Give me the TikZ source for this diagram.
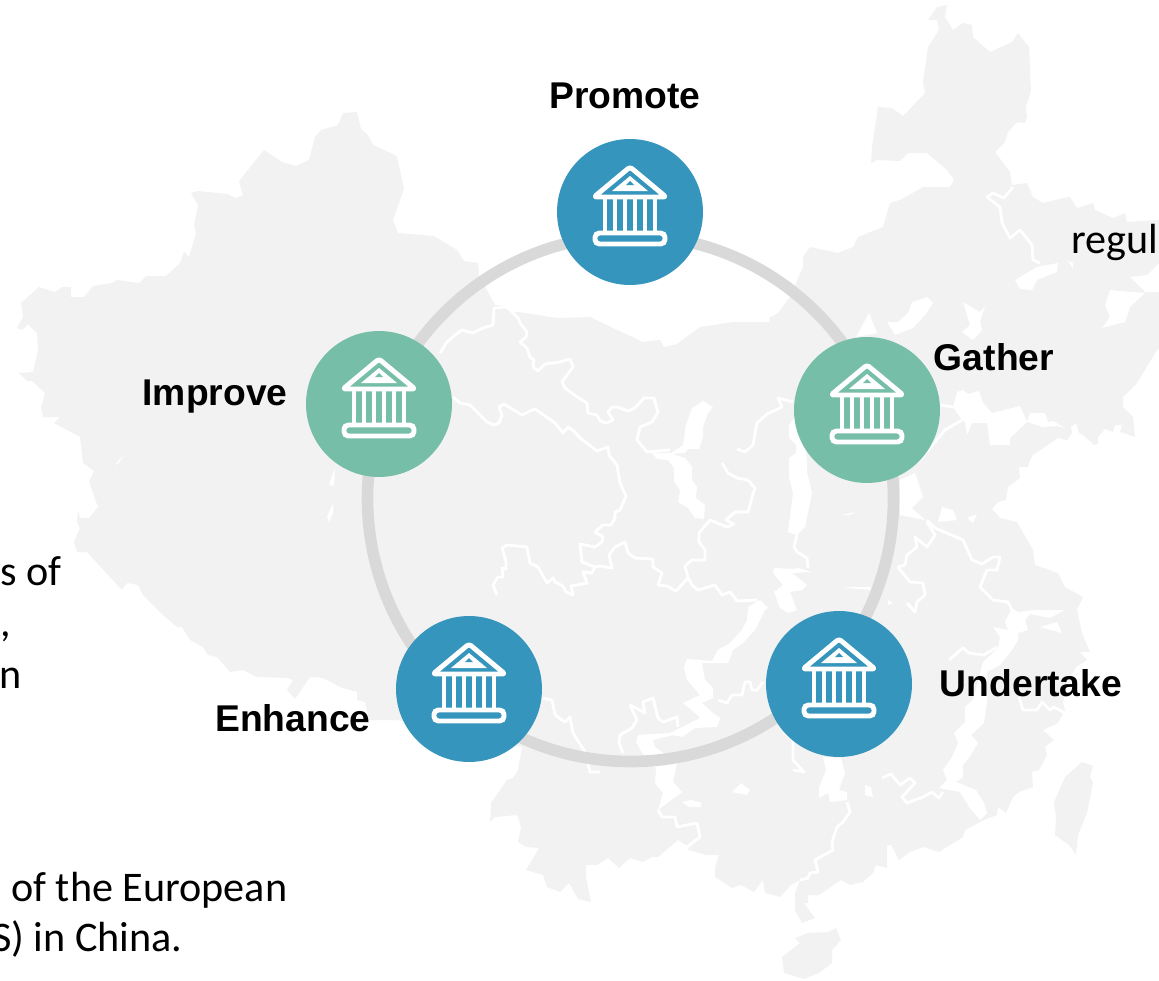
\documentclass[tikz,border=0pt]{standalone}
\usepackage{fontspec}
\setmainfont{Carlito}
\newfontfamily\labelfont{Liberation Sans}
\usetikzlibrary{calc,positioning}
\definecolor{mapgray}{HTML}{F2F2F2}
\definecolor{ringgray}{HTML}{D9D9D9}
\definecolor{hallblue}{HTML}{3595BC}
\definecolor{hallgreen}{HTML}{77BEA8}
\tikzset{
  river/.style={draw=white, line width=1.6pt, line join=round},
  lake/.style={fill=white},
  hall/.style={circle, minimum size=2.92cm, inner sep=0pt},
  hallname/.style={font=\labelfont\bfseries\fontsize{21.2}{25}\selectfont},
  cuttext/.style={font=\fontsize{24}{28}\selectfont, inner sep=0pt},
  temple/.pic={
    \draw[white, line width=2.8pt, line join=round, rounded corners=1.5pt] (0,-45) -- (36,-15) -- (-36,-15) -- cycle;
    \fill[white] (-18,-21) -- (0,-36) -- (18,-21) -- cycle;
    \fill[pic actions] (-4,-27) -- (0,-31) -- (4,-27) -- cycle;
    \foreach \xpos in {-25,-15,-5,5,15,25}
      \draw[white, line width=2.8pt] (\xpos,-14) -- (\xpos,21);
    \draw[white, line width=2.8pt, rounded corners=2.5pt] (-35,21) rectangle (35,32);
  }
}
\begin{document}
\begin{tikzpicture}[x=0.02cm,y=-0.02cm]
\clip (0,0) rectangle (1159,980);

\fill[mapgray] (17,328) -- (23,317) -- (21,303) -- (39,287) -- (55,292) -- (62,287) -- (71,287) -- (71,297) -- (84,297) -- (93,286) -- (112,283) -- (117,280) -- (139,283) -- (146,276) -- (166,276) -- (180,263) -- (184,252) -- (189,257) -- (196,233) -- (194,225) -- (198,205) -- (191,193) -- (198,191) -- (227,194) -- (236,198) -- (243,195) -- (239,181) -- (264,150) -- (282,162) -- (296,166) -- (309,160) -- (315,137) -- (321,130) -- (338,125) -- (343,113) -- (357,112) -- (361,129) -- (368,135) -- (373,145) -- (395,155) -- (397,157) -- (404,189) -- (393,220) -- (398,233) -- (434,236) -- (457,250) -- (464,261) -- (478,263) -- (479,275) -- (495,305) -- (507,306) -- (513,312) -- (519,312) -- (557,318) -- (590,317) -- (613,328) -- (643,342) -- (660,340) -- (664,347) -- (677,344) -- (700,327) -- (733,322) -- (770,322) -- (769,318) -- (778,313) -- (790,297) -- (803,267) -- (803,257) -- (810,247) -- (838,253) -- (853,247) -- (858,237) -- (883,227) -- (890,203) -- (902,199) -- (923,187) -- (950,187) -- (954,180) -- (947,170) -- (927,153) -- (908,153) -- (900,161) -- (877,160) -- (871,163) -- (872,147) -- (878,107) -- (892,108) -- (903,116) -- (925,93) -- (923,82) -- (928,47) -- (939,30) -- (937,20) -- (928,20) -- (937,7) -- (947,5) -- (945,17) -- (953,30) -- (963,23) -- (972,25) -- (973,37) -- (990,52) -- (1012,42) -- (1018,33) -- (1029,47) -- (1031,90) -- (1026,107) -- (1027,117) -- (1025,123) -- (1017,122) -- (1008,132) -- (1005,142) -- (995,152) -- (1010,172) -- (1012,185) -- (1027,183) -- (1033,197) -- (1043,203) -- (1063,198) -- (1070,197) -- (1077,208) -- (1093,203) -- (1095,210) -- (1113,218) -- (1125,213) -- (1127,222) -- (1157,220) -- (1165,219) -- (1165,263) -- (1159,263) -- (1147,275) -- (1130,277) -- (1145,292) -- (1165,292) -- (1165,345) -- (1157,350) -- (1137,383) -- (1123,397) -- (1123,407) -- (1133,417) -- (1135,437) -- (1120,432) -- (1122,425) -- (1115,425) -- (1113,432) -- (1105,429) -- (1098,437) -- (1098,444) -- (1094,445) -- (1083,435) -- (1079,433) -- (1076,423) -- (1071,427) -- (1072,433) -- (1067,440) -- (1058,438) -- (1033,455) -- (1030,460) -- (1028,467) -- (1019,467) -- (1020,478) -- (1008,487) -- (1006,500) -- (998,502) -- (992,509) -- (1000,518) -- (1017,522) -- (1033,550) -- (1035,565) -- (1058,573) -- (1065,587) -- (1083,597) -- (1077,610) -- (1082,633) -- (1090,652) -- (1080,652) -- (1087,660) -- (1076,667) -- (1066,685) -- (1063,703) -- (1065,710) -- (1058,723) -- (1043,730) -- (1054,740) -- (1045,747) -- (1047,755) -- (1039,770) -- (1032,772) -- (1033,787) -- (1019,792) -- (1013,797) -- (1006,813) -- (998,807) -- (997,815) -- (984,820) -- (965,830) -- (963,837) -- (947,847) -- (939,852) -- (923,847) -- (910,852) -- (899,860) -- (891,845) -- (887,845) -- (887,868) -- (876,865) -- (873,873) -- (863,882) -- (850,885) -- (841,880) -- (819,895) -- (808,895) -- (808,903) -- (804,903) -- (815,918) -- (802,923) -- (795,910) -- (795,893) -- (800,880) -- (791,885) -- (780,897) -- (765,893) -- (763,880) -- (754,892) -- (741,885) -- (732,888) -- (715,877) -- (715,867) -- (719,855) -- (706,855) -- (689,850) -- (686,845) -- (678,840) -- (658,857) -- (652,857) -- (643,862) -- (630,858) -- (619,868) -- (608,858) -- (597,865) -- (586,865) -- (586,877) -- (591,902) -- (578,899) -- (569,883) -- (560,892) -- (547,887) -- (543,875) -- (526,870) -- (539,848) -- (526,847) -- (518,842) -- (521,827) -- (517,815) -- (495,817) -- (490,822) -- (491,803) -- (507,780) -- (513,778) -- (518,770) -- (522,747) -- (397,720) -- (369,720) -- (365,702) -- (357,700) -- (357,692) -- (340,687) -- (323,678) -- (310,677) -- (295,699) -- (287,690) -- (293,680) -- (287,678) -- (257,677) -- (243,670) -- (230,672) -- (217,657) -- (208,655) -- (203,647) -- (190,640) -- (182,627) -- (177,627) -- (163,615) -- (143,595) -- (138,585) -- (127,583) -- (122,590) -- (97,563) -- (87,552) -- (77,552) -- (74,542) -- (80,528) -- (77,522) -- (78,510) -- (80,518) -- (89,518) -- (98,507) -- (89,482) -- (94,471) -- (83,463) -- (80,437) -- (54,423) -- (60,417) -- (43,417) -- (41,407) -- (45,393) -- (32,381) -- (27,381) -- (19,373) -- (33,372) -- (38,350) -- (37,333) -- (28,324) -- (22,330) -- cycle;

\fill[mapgray] (1082,762) -- (1093,766) -- (1090,777) -- (1093,783) -- (1087,813) -- (1078,835) -- (1076,855) -- (1069,845) -- (1055,835) -- (1056,817) -- (1054,802) -- (1065,777) -- cycle;
\fill[mapgray] (836,928) -- (841,940) -- (832,950) -- (832,963) -- (819,973) -- (804,979) -- (784,973) -- (782,957) -- (800,943) -- (795,938) -- (808,933) -- (828,932) -- cycle;

\fill[lake] (692,408) -- (703,401) -- (713,407) -- (708,413) -- (703,427) -- (703,437) -- (699,449) -- (688,449) -- (685,453) -- (670,454) -- (683,445) -- (686,425) -- cycle;
\fill[lake] (652,453) -- (670,453) -- (685,458) -- (692,467) -- (692,480) -- (697,487) -- (696,498) -- (705,505) -- (704,519) -- (695,518) -- (688,508) -- (678,502) -- (680,490) -- (674,482) -- (674,468) -- (668,460) -- (657,459) -- cycle;
\fill[lake] (789,425) -- (800,410) -- (807,460) -- (807,472) -- (812,493) -- (805,527) -- (797,535) -- (788,532) -- (793,493) -- (789,477) -- (789,458) -- (796,453) -- (796,445) -- (789,438) -- cycle;
\fill[lake] (774,568) -- (793,569) -- (798,568) -- (812,572) -- (792,573) -- (807,585) -- (802,590) -- (790,592) -- (797,610) -- (788,613) -- (780,608) -- (774,592) -- (783,585) -- (773,573) -- cycle;
\fill[lake] (768,608) -- (760,600) -- (748,607) -- (747,620) -- (742,630) -- (730,643) -- (718,650) -- (712,661) -- (687,659) -- (684,667) -- (687,680) -- (700,695) -- (683,703) -- (695,713) -- (700,718) -- (680,728) -- (670,733) -- (638,735) -- (636,742) -- (642,753) -- (656,768) -- (655,783) -- (663,793) -- (658,810) -- (682,792) -- (673,782) -- (677,763) -- (655,747) -- (653,740) -- (673,735) -- (682,737) -- (695,728) -- (717,727) -- (720,718) -- (713,713) -- (702,703) -- (713,698) -- (713,688) -- (705,680) -- (702,663) -- (728,663) -- (733,650) -- (743,643) -- (755,630) -- (765,610) -- cycle;
\fill[lake] (1065,610) -- (1035,610) -- (1018,612) -- (1012,608) -- (1005,622) -- (1008,630) -- (993,627) -- (1000,637) -- (998,648) -- (983,662) -- (987,672) -- (1000,665) -- (1012,650) -- (1018,640) -- (1018,633) -- (1028,630) -- (1025,620) -- (1030,614) -- (1050,618) -- cycle;
\fill[lake] (1040,627) -- (1062,633) -- (1057,622) -- cycle;
\fill[lake] (983,662) -- (973,700) -- (965,707) -- (965,722) -- (954,733) -- (958,743) -- (952,757) -- (943,770) -- (947,780) -- (939,788) -- (960,792) -- (969,807) -- (980,820) -- (987,813) -- (984,803) -- (976,790) -- (956,782) -- (963,777) -- (963,765) -- (969,758) -- (978,743) -- (971,735) -- (984,723) -- (987,702) -- (987,672) -- cycle;
\fill[lake] (823,757) -- (826,770) -- (819,788) -- (819,798) -- (828,793) -- (830,802) -- (847,800) -- (847,792) -- (839,790) -- (845,773) -- (841,758) -- cycle;
\fill[lake] (953,407) -- (957,392) -- (963,390) -- (968,394) -- (979,391) -- (983,403) -- (992,413) -- (1020,406) -- (1027,422) -- (1030,413) -- (1045,413) -- (1048,422) -- (1053,421) -- (1065,428) -- (1057,426) -- (1042,427) -- (1027,422) -- (1010,438) -- (1010,445) -- (990,445) -- (987,423) -- (972,423) -- (967,435) -- (965,422) -- (962,420) -- cycle;
\fill[lake] (900,480) -- (915,473) -- (923,497) -- (912,508) -- (925,520) -- (900,515) -- cycle;
\fill[lake] (942,507) -- (953,510) -- (957,520) -- (938,522) -- cycle;
\fill[lake] (967,518) -- (977,514) -- (973,523) -- cycle;
\fill[lake] (842,515) -- (855,512) -- (850,515) -- cycle;
\fill[lake] (888,600) -- (893,603) -- (888,605) -- cycle;
\fill[lake] (843,587) -- (870,587) -- (872,590) -- (857,589) -- cycle;
\fill[lake] (732,792) -- (741,783) -- (750,790) -- (747,795) -- (737,793) -- cycle;
\fill[lake] (682,802) -- (691,800) -- (702,803) -- (700,807) -- (689,807) -- cycle;
\fill[lake] (865,785) -- (871,787) -- (873,797) -- (865,795) -- cycle;
\fill[lake] (1015,280) -- (1037,267) -- (1058,263) -- (1057,272) -- (1037,280) -- (1032,290) -- (1020,289) -- cycle;
\fill[lake] (1067,260) -- (1073,263) -- (1073,268) -- cycle;
\fill[lake] (1110,290) -- (1145,293) -- (1130,307) -- (1125,322) -- (1102,328) -- (1110,317) -- (1105,305) -- cycle;
\fill[lake] (912,302) -- (927,297) -- (933,303) -- (925,315) -- (913,328) -- (895,335) -- (887,322) -- (898,322) -- (908,313) -- cycle;
\fill[lake] (963,302) -- (980,312) -- (985,306) -- (980,322) -- (982,330) -- (973,340) -- (962,332) -- (970,325) -- cycle;
\fill[lake] (856,337) -- (869,313) -- (877,333) -- cycle;
\fill[lake] (123,455) -- (115,465) -- (119,463) -- cycle;
\fill[lake] (335,468) -- (329,485) -- (334,486) -- cycle;
\fill[lake] (333,503) -- (327,517) -- (329,522) -- (333,513) -- cycle;

\draw[river] (440,353) -- (447,342) -- (455,335) -- (462,330) -- (473,333) -- (483,328) -- (493,325) -- (494,308) -- (507,307) -- (513,313) -- (518,318) -- (520,323) -- (527,332) -- (526,337) -- (520,342) -- (527,348) -- (530,357) -- (534,360) -- (533,367) -- (538,371) -- (545,364) -- (560,362) -- (570,359) -- (573,367) -- (562,382) -- (565,388) -- (577,397) -- (587,403) -- (588,413) -- (597,415) -- (600,421) -- (607,423) -- (613,420) -- (608,412) -- (612,407) -- (617,407) -- (628,411) -- (635,408) -- (644,398) -- (654,398) -- (658,412) -- (652,422) -- (640,427) -- (637,440) -- (647,452) -- (670,450);
\draw[river] (453,397) -- (460,403) -- (470,405) -- (487,422) -- (494,425) -- (499,423) -- (502,415) -- (499,407) -- (504,404) -- (522,415) -- (530,411) -- (535,409) -- (555,423) -- (563,433) -- (568,427) -- (575,432) -- (580,438) -- (597,451) -- (608,447) -- (609,455) -- (617,465) -- (620,483) -- (626,496) -- (620,510) -- (615,512) -- (615,518) -- (611,525) -- (603,525) -- (595,532) -- (603,537) -- (602,542) -- (595,547) -- (580,544) -- (582,562) -- (595,567) -- (592,573) -- (583,572) -- (587,583) -- (571,586) -- (573,595) -- (566,592) -- (563,586) -- (555,582) -- (553,578) -- (547,583) -- (538,567) -- (530,563) -- (527,547) -- (507,545) -- (502,548) -- (506,562) -- (506,569) -- (502,568) -- (503,577) -- (498,577) -- (493,585) -- (497,595);
\draw[river] (595,567) -- (600,566) -- (612,568) -- (609,555) -- (615,547) -- (625,542) -- (628,553) -- (635,558) -- (653,559) -- (653,567) -- (662,573) -- (658,585) -- (667,586) -- (676,591) -- (688,578) -- (685,566) -- (692,560) -- (705,560) -- (705,550) -- (699,542) -- (699,533) -- (710,520) -- (727,527) -- (734,524) -- (726,520) -- (735,512) -- (748,512) -- (752,497) -- (755,488) -- (748,480) -- (737,478) -- (728,473) -- (722,463);
\draw[river] (688,578) -- (692,585) -- (698,590) -- (715,585) -- (722,595) -- (730,592) -- (737,601) -- (757,600);
\draw[river] (737,449) -- (745,452) -- (753,445) -- (757,423) -- (767,414) -- (782,407) -- (778,398) -- (793,402);
\draw[river] (797,535) -- (794,547) -- (797,552) -- (807,558) -- (808,568);
\draw[river] (1013,187) -- (1004,198) -- (993,193) -- (987,197) -- (1000,207) -- (1002,223) -- (1010,238) -- (1020,230) -- (1032,245) -- (1033,260) -- (1040,263);
\draw[river] (962,420) -- (945,430) -- (920,460);
\draw[river] (940,405) -- (953,407);
\draw[river] (927,520) -- (935,528) -- (963,540) -- (972,560) -- (982,564) -- (993,557) -- (1000,557) -- (997,570) -- (987,570) -- (980,587) -- (993,600) -- (1008,602) -- (1013,612);
\draw[river] (927,522) -- (935,535) -- (927,547) -- (915,537) -- (917,547) -- (907,555) -- (905,565) -- (898,567) -- (910,582) -- (923,583) -- (925,595) -- (917,602) -- (915,612) -- (907,603);
\draw[river] (630,705) -- (645,713) -- (643,702) -- (653,698) -- (658,718) -- (663,722) -- (677,717) -- (678,727);
\draw[river] (630,705) -- (637,720) -- (632,728) -- (620,735) -- (619,743) -- (623,753);
\draw[river] (543,698) -- (552,700) -- (555,715) -- (565,722) -- (570,717) -- (573,733) -- (585,752) -- (590,772) -- (600,772);
\draw[river] (718,700) -- (727,703) -- (732,695) -- (742,695) -- (745,682) -- (750,682) -- (752,690) -- (757,690) -- (763,682);
\draw[river] (658,810) -- (662,817) -- (675,817) -- (677,827) -- (697,823) -- (700,837) -- (687,847);
\draw[river] (784,733) -- (793,740) -- (793,760) -- (804,772) -- (793,770);
\draw[river] (847,802) -- (850,812) -- (843,822) -- (837,827) -- (832,842) -- (833,850) -- (815,860) -- (818,872) -- (810,873) -- (808,878) -- (800,880);
\draw[river] (882,778) -- (891,774) -- (900,785) -- (910,778) -- (915,783) -- (902,797) -- (907,803) -- (923,797) -- (932,792) -- (939,798) -- (943,792);
\draw[river] (949,660) -- (963,648) -- (969,653) -- (984,655) -- (997,647);
\draw[river] (1019,697) -- (1023,710) -- (1037,710) -- (1042,702) -- (1050,710) -- (1054,707) -- (1065,713);

\draw[ringgray, line width=6.6pt] (630.5,498.5) circle (263);

\node (promote) [hall, fill=hallblue] at (630,212) {};
\node (gather) [hall, fill=hallgreen] at (867,410) {};
\node (undertake) [hall, fill=hallblue] at (839,684) {};
\node (enhance) [hall, fill=hallblue] at (469,689) {};
\node (improve) [hall, fill=hallgreen] at (379,404) {};

\pic[fill=hallblue] at (promote) {temple};
\pic[fill=hallgreen] at (gather) {temple};
\pic[fill=hallblue] at (undertake) {temple};
\pic[fill=hallblue] at (enhance) {temple};
\pic[fill=hallgreen] at (improve) {temple};

\node (promotename) [hallname] at (625,96) {Promote};
\node (gathername) [hallname] at (994,357) {Gather};
\node (undertakename) [hallname] at (1031,683) {Undertake};
\node (enhancename) [hallname] at (293,718) {Enhance};
\node (improvename) [hallname] at (215,397) {Improve};

\node (regul) [cuttext, anchor=base west] at (1071,253) {regul};
\node (sof) [cuttext, anchor=base east] at (62,585) {s of};
\node (comma) [cuttext, anchor=base west] at (0,636) {,};
\node (enn) [cuttext, anchor=base east] at (22,688) {n};
\node (european) [cuttext, anchor=base west] at (11,901) {of the European};
\node (china) [cuttext, anchor=base east] at (183,951) {S) in China.};
\end{tikzpicture}
\end{document}
